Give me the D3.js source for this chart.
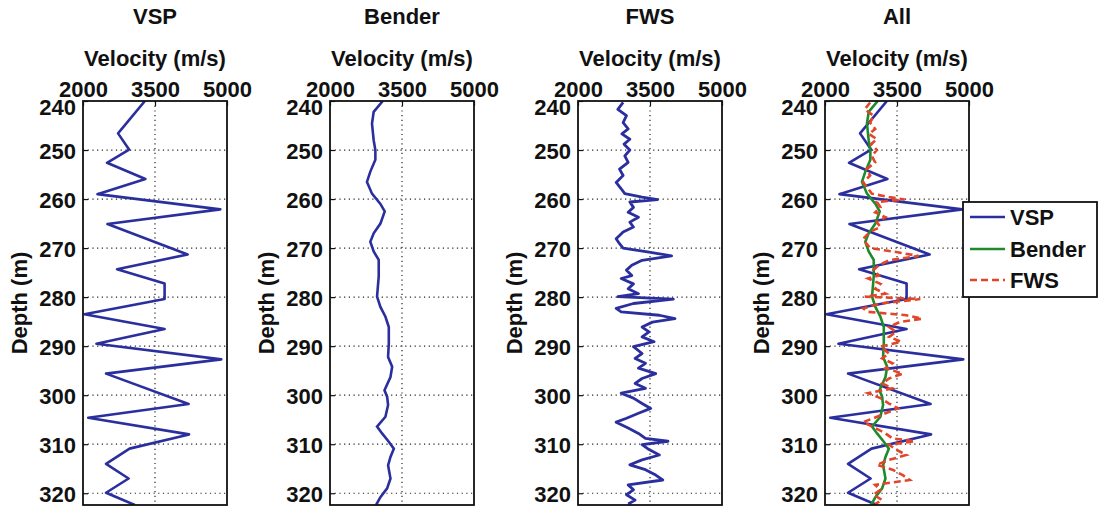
<!DOCTYPE html>
<html>
<head>
<meta charset="utf-8">
<script src="https://cdn.jsdelivr.net/npm/d3@7"></script>
<style>
  html, body { margin: 0; padding: 0; background: #fff; }
  svg { display: block; }
  text { font-family: "Liberation Sans", Arial, Helvetica, sans-serif; font-weight: bold; fill: #111; }
</style>
</head>
<body>
<svg id="chart" width="1099" height="510"></svg>
<script>
// ---------- data ----------
const panelTitles = ["VSP", "Bender", "FWS", "All"];
const velTicks = [2000, 3500, 5000];
const depthTicks = [240, 250, 260, 270, 280, 290, 300, 310, 320];
const legendLabels = ["VSP", "Bender", "FWS"];

const vspDepth = [240, 246.6, 249.9, 252.6, 255.9, 259, 262.1, 265.1, 271.3, 274.3, 277.2, 280.4,
  283.5, 286.5, 289.5, 292.7, 295.6, 301.8, 304.6, 308, 310.9, 314, 317, 319.9, 322.4];
const vspVel = [3290, 2730, 2960, 2500, 3300, 2300, 4860, 2510, 4180, 2710, 3700, 3700,
  2030, 3700, 2280, 4880, 2480, 4200, 2110, 4210, 2970, 2480, 2950, 2480, 3080];

const benderDepth = [240, 242.2, 244.6, 248, 250, 252, 254.4, 256.5, 258.9, 261, 262.5, 265, 267,
  268.7, 270.7, 272.4, 275.8, 279.9, 282, 284, 286.1, 289.5, 292.2, 294.2, 296.3, 299, 300.3, 302,
  304.4, 306.4, 307.8, 309.5, 310.9, 312.6, 314.3, 317, 319, 320.8, 322.4];
const benderVel = [3100, 2910, 2875, 2910, 2945, 2945, 2840, 2770, 2875, 3050, 3140, 3050, 2910,
  2840, 2910, 3015, 3015, 2980, 3050, 3155, 3225, 3225, 3210, 3295, 3260, 3135, 3190, 3210,
  3155, 2980, 3085, 3225, 3330, 3260, 3210, 3260, 3190, 3050, 2960];

const fwsDepth = [240.3, 241.7, 243, 244.4, 245.7, 246.7, 247.8, 248.8, 250, 251.2, 252.5, 253.9,
  255.2, 256.6, 257.9, 258.9, 259.6, 260.1, 260.6, 261.7, 262.7, 263.7, 264.7, 265.7, 266.7,
  268.1, 269.1, 270, 270.8, 271.6, 272.5, 273.5, 274.5, 275.6, 276.2, 277.3, 278.3, 279.3, 279.9,
  280.4, 281.3, 282.3, 283, 283.7, 284.4, 285.1, 286.1, 287.1, 288.1, 289.1, 290.1, 291.5, 292.5,
  293.5, 294.5, 295.6, 296.6, 297.6, 298.6, 299.6, 300.6, 301.7, 302.7, 303.7, 304.7, 305.5,
  306.7, 307.8, 308.8, 309.4, 310.1, 311.1, 312.2, 313.2, 314.2, 315.2, 316.3, 317.3, 318.3,
  319.3, 320.3, 321.4, 322.2];
const fwsVel = [2940, 2830, 3010, 2940, 3045, 2915, 3080, 2960, 3080, 2975, 3045, 2865,
  2940, 2795, 2900, 2975, 3335, 3660, 3080, 3155, 3045, 3260, 3080, 3155, 2940,
  2795, 2865, 2940, 3480, 3950, 3335, 3120, 3010, 3120, 2900, 3155, 3045, 3260, 2830,
  3985, 3155, 2795, 2900, 3695, 4020, 3550, 3335, 3480, 3335, 3585, 3155, 3335, 3190,
  3405, 3260, 3620, 3335, 3190, 3405, 2900, 3155, 3335, 3515, 3260, 3010, 2795,
  3045, 3260, 3405, 3875, 3335, 3480, 3695, 3335, 3080, 3405, 3620, 3765, 3045,
  3155, 3010, 3190, 3045];

// ---------- layout ----------
const svg = d3.select("#chart");
const panelLefts = [83, 330, 578, 825];
const panelW = 144;
const plotTop = 101, plotBottom = 505;
const colors = { vsp: "#2b2f9e", bender: "#1e8a2c", fws: "#e2452a" };

const y = d3.scaleLinear().domain([240, 322.4]).range([plotTop, plotBottom]);

function drawPanel(i) {
  const left = panelLefts[i];
  const x = d3.scaleLinear().domain([2000, 5000]).range([left, left + panelW]);
  const g = svg.append("g");

  // grid
  g.append("g").selectAll("line").data(depthTicks.slice(1)).join("line")
    .attr("x1", left).attr("x2", left + panelW)
    .attr("y1", d => y(d)).attr("y2", d => y(d))
    .attr("stroke", "#222").attr("stroke-width", 1.2).attr("stroke-dasharray", "1.2,3.5");
  g.append("g").selectAll("line").data(velTicks.slice(1, -1)).join("line")
    .attr("y1", plotTop).attr("y2", plotBottom)
    .attr("x1", d => x(d)).attr("x2", d => x(d))
    .attr("stroke", "#222").attr("stroke-width", 1.2).attr("stroke-dasharray", "1.2,3.5");

  // axes via d3
  const xAxis = d3.axisTop(x).tickValues(velTicks).tickSize(-5).tickPadding(8).tickFormat(d3.format("d"));
  const gx = g.append("g").attr("transform", `translate(0,${plotTop})`).call(xAxis);
  const yAxis = d3.axisLeft(y).tickValues(depthTicks).tickSize(-5).tickPadding(7).tickFormat(d3.format("d"));
  const gy = g.append("g").attr("transform", `translate(${left},0)`).call(yAxis);
  [gx, gy].forEach(a => {
    a.select(".domain").remove();
    a.selectAll(".tick line").attr("stroke", "#111").attr("stroke-width", 1.2);
    a.selectAll(".tick text").style("font-size", "22px").style("font-weight", "bold")
      .style("font-family", '"Liberation Sans", Arial, sans-serif').attr("fill", "#111");
  });
  gx.selectAll(".tick text").attr("dy", "0").attr("y", -4);
  gy.selectAll(".tick text").attr("dy", d => d === 240 ? "0.62em" : "0.38em");

  // lines
  const line = d3.line().x(d => x(d[1])).y(d => y(d[0]));
  const clipId = "clip" + i;
  svg.append("clipPath").attr("id", clipId).append("rect")
    .attr("x", left).attr("y", plotTop).attr("width", panelW).attr("height", plotBottom - plotTop);
  const lg = g.append("g").attr("clip-path", `url(#${clipId})`);
  const vsp = d3.zip(vspDepth, vspVel);
  const ben = d3.zip(benderDepth, benderVel);
  const fws = d3.zip(fwsDepth, fwsVel);
  if (i === 0 || i === 3) lg.append("path").attr("d", line(vsp)).attr("fill", "none")
    .attr("stroke", colors.vsp).attr("stroke-width", 2.6).attr("stroke-linejoin", "round");
  if (i === 1 || i === 3) lg.append("path").attr("d", line(ben)).attr("fill", "none")
    .attr("stroke", i === 1 ? colors.vsp : colors.bender).attr("stroke-width", 2.6);
  if (i === 2) lg.append("path").attr("d", line(fws)).attr("fill", "none")
    .attr("stroke", colors.vsp).attr("stroke-width", 2.8).attr("stroke-linejoin", "round");
  if (i === 3) lg.append("path").attr("d", line(fws)).attr("fill", "none")
    .attr("stroke", colors.fws).attr("stroke-width", 2.6).attr("stroke-dasharray", "7,4");

  // frame
  g.append("rect").attr("x", left).attr("y", plotTop).attr("width", panelW).attr("height", plotBottom - plotTop)
    .attr("fill", "none").attr("stroke", "#111").attr("stroke-width", 1.8);

  // labels
  const cx = left + panelW / 2;
  g.append("text").attr("x", cx).attr("y", 24).attr("text-anchor", "middle")
    .style("font-size", "22px").text(panelTitles[i]);
  g.append("text").attr("x", cx).attr("y", 66).attr("text-anchor", "middle")
    .style("font-size", "22px").text("Velocity (m/s)");
  g.append("text").attr("transform", `translate(${left - 56},${(plotTop + plotBottom) / 2}) rotate(-90)`)
    .attr("text-anchor", "middle").style("font-size", "22px").text("Depth (m)");
}

for (let i = 0; i < 4; i++) drawPanel(i);

// legend
const lgX = 963, lgY = 202, lgW = 134, lgH = 95;
const leg = svg.append("g");
leg.append("rect").attr("x", lgX).attr("y", lgY).attr("width", lgW).attr("height", lgH)
  .attr("fill", "#fff").attr("stroke", "#111").attr("stroke-width", 1.8);
const legColors = [colors.vsp, colors.bender, colors.fws];
const legY = [217, 249, 280];
legendLabels.forEach((lab, k) => {
  leg.append("line").attr("x1", 970).attr("x2", 1005).attr("y1", legY[k]).attr("y2", legY[k])
    .attr("stroke", legColors[k]).attr("stroke-width", 2.6)
    .attr("stroke-dasharray", k === 2 ? "7,4" : null);
  leg.append("text").attr("x", 1010).attr("y", legY[k] + 8).style("font-size", "22px").text(lab);
});
</script>
</body>
</html>
